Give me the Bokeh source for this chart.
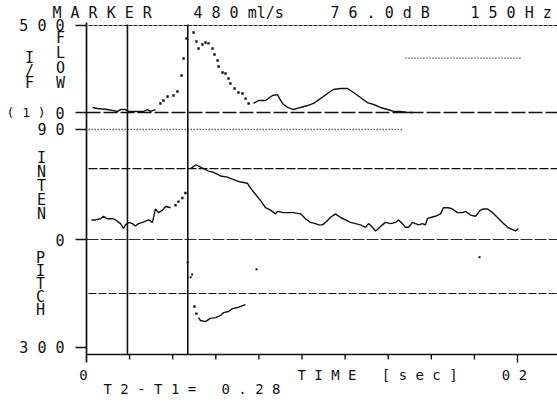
import math
from bokeh.plotting import figure
from bokeh.models import Range1d
from bokeh.core.properties import value
from bokeh.embed import file_html
from bokeh.resources import INLINE

# ---------------- data ----------------
# Air flow (ml/s) against time (s)
FLOW_T = [0.028, 0.051, 0.097, 0.125, 0.144, 0.158, 0.181, 0.195, 0.265, 0.283,
          0.297, 0.320, 0.343, 0.357, 0.376, 0.404, 0.422, 0.441, 0.450, 0.464,
          0.497, 0.510, 0.520, 0.538, 0.552, 0.566, 0.585, 0.594, 0.608, 0.613,
          0.631, 0.645, 0.659, 0.668, 0.687, 0.705, 0.724, 0.738, 0.752, 0.775,
          0.798, 0.831, 0.863, 0.886, 0.896, 0.910, 0.933, 0.961, 0.993, 1.026,
          1.053, 1.086, 1.118, 1.146, 1.179, 1.211, 1.239, 1.271, 1.304, 1.332,
          1.364, 1.397, 1.425, 1.457, 1.490, 1.517]
FLOW_V = [29, 23, 17, 11, 6, 17, 17, 6, 6, 17,
          6, 17, 52, 69, 92, 98, 121, 213, 310, 425,
          460, 408, 368, 391, 402, 397, 368, 333, 299, 264,
          230, 224, 195, 167, 138, 115, 109, 80, 52, 52,
          69, 69, 98, 103, 80, 52, 29, 17, 29, 40,
          52, 80, 109, 132, 138, 138, 115, 86, 57, 46,
          29, 17, 6, 6, 0, 0]

# Intensity (dB) against time (s)
INTEN_T = [0.023, 0.042, 0.065, 0.079, 0.097, 0.121, 0.135, 0.158, 0.172, 0.181,
           0.195, 0.213, 0.227, 0.241, 0.260, 0.274, 0.288, 0.306, 0.320, 0.334,
           0.353, 0.367, 0.390, 0.413, 0.427, 0.445, 0.459, 0.483, 0.506, 0.520,
           0.543, 0.566, 0.589, 0.622, 0.654, 0.682, 0.715, 0.747, 0.761, 0.784,
           0.807, 0.831, 0.854, 0.877, 0.886, 0.914, 0.960, 0.993, 1.016, 1.039,
           1.063, 1.076, 1.095, 1.109, 1.132, 1.155, 1.179, 1.202, 1.225, 1.248,
           1.271, 1.295, 1.309, 1.327, 1.341, 1.355, 1.373, 1.387, 1.411, 1.434,
           1.448, 1.466, 1.480, 1.494, 1.513, 1.527, 1.541, 1.559, 1.573, 1.582,
           1.596, 1.619, 1.643, 1.656, 1.680, 1.698, 1.721, 1.745, 1.759, 1.782,
           1.805, 1.828, 1.842, 1.861, 1.884, 1.907, 1.930, 1.954, 1.977, 1.991, 2.004]
INTEN_V = [16, 16, 17, 19, 17, 17, 16, 13, 9, 12,
           14, 13, 11, 13, 14, 15, 16, 14, 25, 22,
           24, 27, 26, 28, 31, 34, 38, 58, 61, 60,
           58, 56, 55, 52, 51, 49, 47, 46, 42, 37,
           32, 26, 24, 21, 23, 22, 22, 21, 17, 14,
           13, 12, 12, 14, 18, 21, 18, 16, 14, 13,
           12, 10, 13, 10, 7, 9, 12, 14, 13, 14,
           16, 13, 10, 10, 14, 13, 12, 13, 12, 17,
           18, 19, 21, 26, 26, 25, 22, 22, 23, 20,
           19, 24, 25, 25, 22, 18, 14, 10, 8, 7, 9]

# Pitch (Hz) against time (s)
PITCH_T = [0.501, 0.510, 0.520, 0.529, 0.552, 0.575, 0.599, 0.622, 0.636, 0.659,
           0.677, 0.701, 0.715, 0.738]
PITCH_V = [186, 206, 217, 225, 228, 219, 217, 211, 203, 200,
           192, 189, 186, 181]
PITCH_STRAY_T = [0.469, 0.483, 0.490, 0.789, 1.824]
PITCH_STRAY_V = [63, 105, 97, 83, 49]

# I/F ratio: two dotted runs
IF_START = [0.01, 1.48]
IF_END = [1.47, 2.02]
IF_VALUE = [0.0, 4.2]

# Markers and header values
MARKERS_T = [0.19, 0.47]
MARKER_FLOW = 480
MARKER_INTEN = 76.0
MARKER_PITCH = 150

# Reference levels
FLOW_REF_TOP = 500
FLOW_REF_ZERO = 0
INTEN_REF = 58
PITCH_REF = 150

# Time axis
TICKS = [0.2, 0.4, 0.6, 0.8, 1.0, 1.2, 1.4, 1.6, 1.8, 2.0]
TICK_LABELS = {0.0: "0", 2.0: "02"}

# Left scale labels
FLOW_LABELS = [(500, "500"), (0, "0")]
IF_LABEL = (1, "(1)")
INTEN_LABELS = [(90, "90"), (0, "0")]
PITCH_LABELS = [(300, "300")]

# ---------------- layout ----------------
W, H = 557, 403
PAGE_L, PAGE_T = 0, 0
PAGE_R, PAGE_B = PAGE_L + W, PAGE_T + H
X0 = 86.0          # page x of t = 0
PX_PER_S = 215.5   # pixels per second
INK = "#111111"
NB = "\u00a0"


def t_at(px):
    return (px - X0) / PX_PER_S


def vrange(v_a, r_a, v_b, r_b):
    k = (v_b - v_a) / (r_b - r_a)
    return Range1d(start=v_a + (PAGE_B - r_a) * k, end=v_a + (PAGE_T - r_a) * k)


p = figure(width=W, height=H, output_backend="svg", toolbar_location=None,
           x_range=Range1d(t_at(PAGE_L), t_at(PAGE_R)),
           y_range=Range1d(PAGE_B, PAGE_T),
           x_axis_type=None, y_axis_type=None, min_border=0)
p.outline_line_color = None
p.background_fill_color = "white"
p.border_fill_color = "white"
p.extra_x_ranges = {"px": Range1d(PAGE_L, PAGE_R)}
p.extra_y_ranges = {
    "flow": vrange(0, 112, 500, 25),
    "if": vrange(0, 129, 1, 112),
    "inten": vrange(0, 239, 90, 129),
    "pitch": vrange(0, 239, 300, 347),
}

T_LINE0 = t_at(88)
T_RIGHT = t_at(PAGE_R)
T_TICK0 = t_at(75)
FONT = value("DejaVu Sans Mono")


def spread(s):
    # one blank between characters; a blank in the source becomes a wide gap
    return " ".join(NB if c == " " else c for c in s)


def txt(xs, ys, texts, size=15, align="left", xr="px", yr="default", x_offset=0):
    p.text(x=xs, y=ys, text=texts, text_font=FONT, text_font_size=value(f"{size}px"),
           text_align=align, text_baseline="middle", text_color=INK,
           x_range_name=xr, y_range_name=yr, x_offset=x_offset)


def vtext(x, first_row, step, s):
    txt([x] * len(s), [first_row + i * step for i in range(len(s))], list(s), align="center")


# horizontal reference lines
p.segment(x0=[T_LINE0], x1=[T_RIGHT], y0=[FLOW_REF_TOP], y1=[FLOW_REF_TOP],
          y_range_name="flow", line_color=INK, line_width=1.1, line_dash="4 1")
p.segment(x0=[0], x1=[T_RIGHT], y0=[FLOW_REF_ZERO], y1=[FLOW_REF_ZERO],
          y_range_name="flow", line_color=INK, line_width=1.3, line_dash="14 3")
p.segment(x0=[T_LINE0], x1=[T_RIGHT], y0=[INTEN_REF], y1=[INTEN_REF],
          y_range_name="inten", line_color=INK, line_width=1.1, line_dash="9 2")
p.segment(x0=[0], x1=[T_RIGHT], y0=[0], y1=[0],
          y_range_name="inten", line_color="#2a2a2a", line_width=1.2, line_dash="12 2")
p.segment(x0=[T_LINE0], x1=[T_RIGHT], y0=[PITCH_REF], y1=[PITCH_REF],
          y_range_name="pitch", line_color=INK, line_width=1.1, line_dash="8 2")

# left scale ticks
for rng, labels in (("flow", FLOW_LABELS), ("inten", INTEN_LABELS), ("pitch", PITCH_LABELS)):
    vals = [v for v, _ in labels]
    p.segment(x0=[T_TICK0] * len(vals), x1=[0] * len(vals), y0=vals, y1=vals,
              y_range_name=rng, line_color=INK, line_width=1.3)

# axes (page rows)
ROW_TOP, ROW_AXIS = 24, 354
p.segment(x0=[0], x1=[0], y0=[22], y1=[362], line_color=INK, line_width=1.7)
p.segment(x0=[0], x1=[T_RIGHT], y0=[ROW_AXIS], y1=[ROW_AXIS], line_color=INK, line_width=1.4)
p.segment(x0=TICKS[:-1], x1=TICKS[:-1], y0=[ROW_AXIS] * (len(TICKS) - 1),
          y1=[ROW_AXIS + 5] * (len(TICKS) - 1), line_color=INK, line_width=1.4)
p.segment(x0=TICKS[-1:], x1=TICKS[-1:], y0=[ROW_AXIS], y1=[ROW_AXIS + 8],
          line_color=INK, line_width=1.4)

# marker lines
p.segment(x0=MARKERS_T, x1=MARKERS_T, y0=[ROW_TOP] * 2, y1=[ROW_AXIS] * 2,
          line_color=INK, line_width=1.6)


# traces: solid where slow, separate dots where steep
def trace(ts, vs, rng, dot_lo, dot_hi):
    ly = [float("nan") if dot_lo < t < dot_hi else v for t, v in zip(ts, vs)]
    p.line(ts, ly, y_range_name=rng, line_color=INK, line_width=1.4)
    dx = [t for t in ts if dot_lo <= t <= dot_hi]
    dy = [v for t, v in zip(ts, vs) if dot_lo <= t <= dot_hi]
    p.scatter(dx, dy, y_range_name=rng, marker="square", size=2.4,
              color=INK, line_color=None)


trace(FLOW_T, FLOW_V, "flow", 0.33, 0.76)
trace(INTEN_T, INTEN_V, "inten", 0.40, 0.47)
trace(PITCH_T, PITCH_V, "pitch", 0.49, 0.515)
p.scatter(PITCH_STRAY_T, PITCH_STRAY_V, y_range_name="pitch", marker="square",
          size=2, color=INK, line_color=None)

# I/F dotted runs
p.segment(x0=IF_START, x1=IF_END, y0=IF_VALUE, y1=IF_VALUE, y_range_name="if",
          line_color=INK, line_width=1.4, line_dash="1 2")

# header texts
ROW_HEAD = 12.5
txt([52, 193, 330, 470], [ROW_HEAD] * 4,
    [spread("MARKER"),
     spread(f"{MARKER_FLOW:d}") + " ml/s",
     spread(f"{MARKER_INTEN:.1f}dB"),
     spread(f"{MARKER_PITCH:d}Hz")])

# left scale labels
LABEL_RIGHT = 64
for rng, labels in (("flow", FLOW_LABELS), ("inten", INTEN_LABELS), ("pitch", PITCH_LABELS)):
    txt([LABEL_RIGHT] * len(labels), [v for v, _ in labels],
        [spread(s) for _, s in labels], align="right", yr=rng)
txt([6], [IF_LABEL[0]], [spread(IF_LABEL[1])], size=13, yr="if")

# vertical channel names
vtext(29, 57.5, 12.7, "I/F")
vtext(60, 37.5, 15, "FLOW")
vtext(41, 157, 14, "INTEN")
vtext(40, 257.5, 13, "PITCH")

# time axis labels
ROW_TICKLAB = 374.5
txt(list(TICK_LABELS.keys()), [ROW_TICKLAB] * len(TICK_LABELS),
    [spread(s) for s in TICK_LABELS.values()], size=14, align="center", xr="default",
    x_offset=-3)
txt([297], [ROW_TICKLAB], [spread("TIME [sec]")], size=14)
dt = MARKERS_T[1] - MARKERS_T[0]
txt([103], [388], [spread("T2-T1= ") + " " + spread(f"{dt:.2f}")], size=14)

open("out.html", "w").write(file_html(p, INLINE))
